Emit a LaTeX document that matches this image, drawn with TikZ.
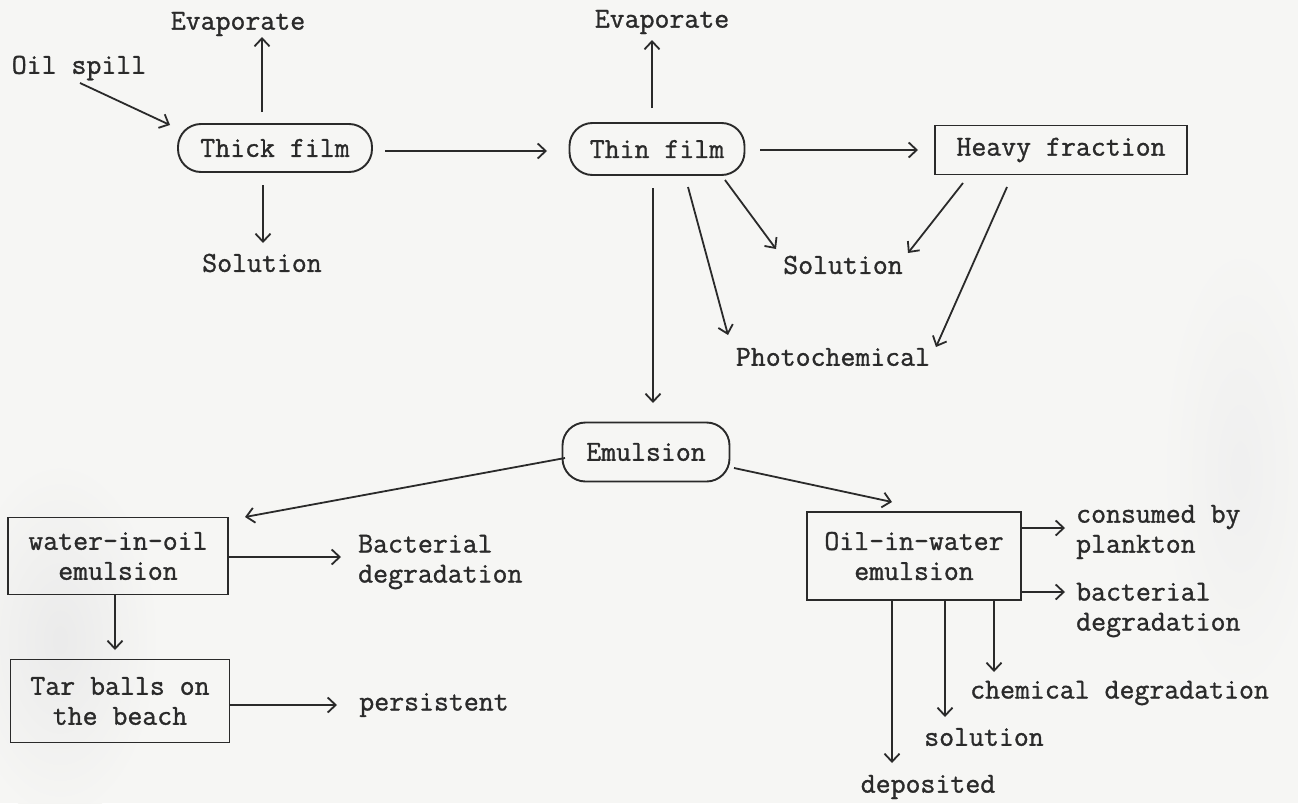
\documentclass[tikz,border=0pt]{standalone}
\usepackage{fontspec}
\usetikzlibrary{arrows.meta}
\newfontfamily\typer[FakeBold=1.1]{Latin Modern Mono}
\definecolor{ink}{HTML}{2A2A2A}
\definecolor{paper}{HTML}{F6F6F4}
\begin{document}
\begin{tikzpicture}[x=1pt,y=-1pt,
  every node/.style={font=\typer\fontsize{29}{30}\selectfont, text=ink, inner sep=0pt},
  pill/.style={draw=ink, line width=1.9pt, rounded corners=23pt},
  boxnode/.style={draw=ink, line width=1.9pt},
  arr/.style={draw=ink, line width=1.8pt,
    -{Straight Barb[length=8pt,width=15pt,line width=1.8pt]}},
]
% paper and faint smudges
\fill[paper] (0,0) rectangle (1298,803);
\useasboundingbox (0,0) rectangle (1298,803);
\shade[inner color=black!8, outer color=paper] (60,640) ellipse [x radius=100pt, y radius=180pt];
\shade[inner color=black!6, outer color=paper] (1240,470) ellipse [x radius=80pt, y radius=230pt];

% top row
\node (evap1) at (238,24) {Evaporate};
\node (oil) at (79,68) {Oil spill};
\node[pill, minimum width=194pt, minimum height=48pt] (thick) at (275,148) {Thick film};
\node (sol1) at (262,263) {Solution};
\node[pill, minimum width=175pt, minimum height=52pt] (thin) at (657,149) {Thin film};
\node (evap2) at (662,22) {Evaporate};
\node[boxnode, minimum width=252pt, minimum height=49pt] (heavy) at (1061,150) {Heavy fraction};
\node (sol2) at (843,265) {Solution};
\node (photo) at (833,357) {Photochemical};

% emulsion branch
\node[pill, minimum width=167pt, minimum height=59pt] (emul) at (646,452) {Emulsion};
\node[boxnode, minimum width=220pt, minimum height=77pt, align=center] (wio) at (118,556) {water-in-oil\\emulsion};
\node[anchor=west, align=left] (bact1) at (358,562) {Bacterial\\degradation};
\node[boxnode, minimum width=219pt, minimum height=83pt, align=center] (tar) at (120,701) {Tar balls on\\the beach};
\node (pers) at (434,705) {persistent};
\node[boxnode, minimum width=214pt, minimum height=88pt, align=center] (oiw) at (914,556) {Oil-in-water\\emulsion};
\node[anchor=west, align=left] (cons) at (1076,532) {consumed by\\plankton};
\node[anchor=west, align=left] (bact2) at (1076,610) {bacterial\\degradation};
\node[anchor=west] (chem) at (970,693) {chemical degradation};
\node (sol3) at (984,737) {solution};
\node (dep) at (928,787) {deposited};

% connectors
\draw[arr] ([shift={(1,15)}]oil.center) -- ([shift={(-105,-23)}]thick.center);
\draw[arr] ([shift={(-13,-36)}]thick.center) -- ([shift={(24,13)}]evap1.center);
\draw[arr] ([shift={(-12,37)}]thick.center) -- ([shift={(1,-20)}]sol1.center);
\draw[arr] ([shift={(110,3)}]thick.center) -- ([shift={(-110,2)}]thin.center);
\draw[arr] ([shift={(-5,-41)}]thin.center) -- ([shift={(-10,18)}]evap2.center);
\draw[arr] ([shift={(103,1)}]thin.center) -- ([shift={(-143,0)}]heavy.center);
\draw[arr] ([shift={(-4,39)}]thin.center) -- ([shift={(7,-49)}]emul.center);
\draw[arr] ([shift={(68,31)}]thin.center) -- ([shift={(-67,-16)}]sol2.center);
\draw[arr] ([shift={(31,38)}]thin.center) -- ([shift={(-105,-22)}]photo.center);
\draw[arr] ([shift={(-98,33)}]heavy.center) -- ([shift={(65,-12)}]sol2.center);
\draw[arr] ([shift={(-54,37)}]heavy.center) -- ([shift={(103,-10)}]photo.center);
\draw[arr] ([shift={(-81,6)}]emul.center) -- ([shift={(127,-39)}]wio.center);
\draw[arr] ([shift={(88,16)}]emul.center) -- ([shift={(-22,-54)}]oiw.center);
\draw[arr] ([shift={(110,1)}]wio.center) -- ([shift={(-17,-5)}]bact1.west);
\draw[arr] ([shift={(-3,39)}]wio.center) -- ([shift={(-5,-51)}]tar.center);
\draw[arr] ([shift={(110,4)}]tar.center) -- ([shift={(-97,0)}]pers.center);
\draw[arr] ([shift={(107,-28)}]oiw.center) -- ([shift={(-11,-4)}]cons.west);
\draw[arr] ([shift={(107,36)}]oiw.center) -- ([shift={(-11,-18)}]bact2.west);
\draw[arr] ([shift={(-22,44)}]oiw.center) -- ([shift={(-36,-24)}]dep.center);
\draw[arr] ([shift={(31,44)}]oiw.center) -- ([shift={(-39,-20)}]sol3.center);
\draw[arr] ([shift={(80,44)}]oiw.center) -- ([shift={(24,-21)}]chem.west);
\end{tikzpicture}
\end{document}
